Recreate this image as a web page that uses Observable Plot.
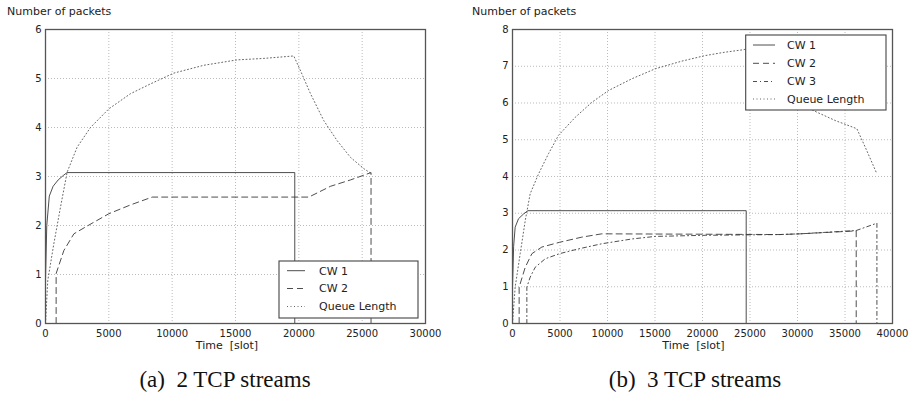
<!DOCTYPE html>
<html><head><meta charset="utf-8">
<script src="https://cdn.jsdelivr.net/npm/d3@7"></script>
<script src="https://cdn.jsdelivr.net/npm/@observablehq/plot@0.6"></script>
<style>
html,body{margin:0;padding:0;background:#fff;}
#root{position:relative;width:911px;height:394px;overflow:hidden;background:#fff;}
.panel{position:absolute;top:0;}
</style></head>
<body><div id="root"><div class="panel" id="pa" style="left:0"></div><div class="panel" id="pb" style="left:455px"></div></div>
<script>
// ---- Panel (a): 2 TCP streams ----
const A_xTicks = [0, 5000, 10000, 15000, 20000, 25000, 30000];
const A_yTicks = [0, 1, 2, 3, 4, 5, 6];
const A_CW1_t = [0, 100, 300, 600, 1000, 1400, 1700, 19680, 19680];
const A_CW1_v = [0.9, 2.0, 2.6, 2.8, 2.93, 3.02, 3.08, 3.08, 0];
const A_CW2_t = [840, 840, 1450, 2240, 3160, 5000, 6710, 8420, 20790, 22500, 24080, 25700, 25700];
const A_CW2_v = [0, 1.02, 1.49, 1.83, 1.97, 2.24, 2.42, 2.58, 2.58, 2.80, 2.93, 3.08, 0];
const A_Q_t = [0, 180, 660, 1180, 1710, 2500, 3550, 5000, 6710, 8290, 10130, 12500, 15130, 17240, 19600, 20130, 20920, 21970, 23030, 24080, 25130, 25660];
const A_Q_v = [0, 0.88, 1.63, 2.37, 3.09, 3.6, 4.0, 4.38, 4.69, 4.89, 5.11, 5.27, 5.38, 5.41, 5.46, 5.16, 4.69, 4.14, 3.73, 3.39, 3.16, 3.07];
const A_names = ["CW 1", "CW 2", "Queue Length"];
const A_caption = "(a)\u00a0 2 TCP streams";

// ---- Panel (b): 3 TCP streams ----
const B_xTicks = [0, 5000, 10000, 15000, 20000, 25000, 30000, 35000, 40000];
const B_yTicks = [0, 1, 2, 3, 4, 5, 6, 7, 8];
const B_CW1_t = [0, 120, 280, 630, 1160, 1620, 24600, 24600];
const B_CW1_v = [1.0, 2.1, 2.62, 2.85, 2.98, 3.07, 3.07, 0];
const B_CW2_t = [700, 700, 1340, 2040, 3090, 4950, 7300, 9400, 19750, 28180, 30270, 36180, 36180];
const B_CW2_v = [0, 0.99, 1.53, 1.90, 2.08, 2.21, 2.35, 2.44, 2.43, 2.42, 2.44, 2.52, 0];
const B_CW3_t = [1510, 1510, 1860, 2390, 3440, 4950, 6950, 9400, 12570, 15020, 20280, 28000, 30270, 36180, 38360, 38360];
const B_CW3_v = [0, 0.99, 1.26, 1.53, 1.76, 1.90, 2.03, 2.17, 2.30, 2.37, 2.40, 2.42, 2.44, 2.53, 2.73, 0];
const B_Q_t = [0, 280, 810, 1340, 1860, 2740, 3790, 4840, 6600, 8360, 10110, 12570, 15020, 17830, 20280, 22300, 24320, 24600, 25500, 27000, 29000, 31000, 32040, 34000, 36250, 37300, 38360];
const B_Q_v = [0, 0.99, 1.9, 2.8, 3.53, 4.07, 4.62, 5.12, 5.61, 6.02, 6.34, 6.66, 6.93, 7.14, 7.29, 7.38, 7.45, 7.47, 7.05, 6.55, 6.15, 5.88, 5.75, 5.52, 5.30, 4.7, 4.07];
const B_names = ["CW 1", "CW 2", "CW 3", "Queue Length"];
const B_caption = "(b)\u00a0 3 TCP streams";

const yLabel = "Number of packets";
const xLabel = "Time\u00a0 [slot]";

const DASH = {solid: null, dashed: "6,4", dashdot: "4,3,1,3", dotted: "1,2.5"};
const INK = {solid: "#3a3a3a", dashed: "#3a3a3a", dashdot: "#3a3a3a", dotted: "#555"};

function zip(t, v) { return t.map((x, i) => ({t: x, v: v[i]})); }

function panel(el, cfg) {
  const marks = [
    Plot.gridX(cfg.xTicks, {stroke: "#aaa", strokeOpacity: 1, strokeDasharray: "1,2", strokeWidth: 0.8}),
    Plot.gridY(cfg.yTicks, {stroke: "#aaa", strokeOpacity: 1, strokeDasharray: "1,2", strokeWidth: 0.8}),
    ...cfg.series.map(s => Plot.line(zip(s.t, s.v), {x: "t", y: "v", stroke: INK[s.style], strokeWidth: 0.9, strokeDasharray: DASH[s.style]})),
    Plot.frame({stroke: "#555", strokeWidth: 1.3}),
    Plot.axisX(cfg.xTicks, {tickSize: 0, tickPadding: 6, label: null, fill: "#222", tickFormat: d3.format("d")}),
    Plot.axisY(cfg.yTicks, {tickSize: 0, tickPadding: 4, label: null, fill: "#222", tickFormat: d3.format("d")})
  ];
  const svg = Plot.plot({
    width: cfg.width, height: 394,
    marginLeft: cfg.ml, marginRight: cfg.mr, marginTop: 29, marginBottom: 71,
    x: {domain: cfg.xDomain}, y: {domain: cfg.yDomain},
    style: {fontFamily: "DejaVu Sans", fontSize: "10px", background: "white", color: "#222", overflow: "visible"},
    marks
  });
  el.appendChild(svg);
  const s = d3.select(svg);
  const tf = "DejaVu Sans";
  s.append("text").attr("x", cfg.ylabX).attr("y", 15).attr("text-anchor", "start").attr("font-family", tf).attr("font-size", 11).attr("fill", "#222").text(yLabel);
  s.append("text").attr("x", cfg.xlabX).attr("y", 349.3).attr("text-anchor", "middle").attr("font-family", tf).attr("font-size", 11).attr("fill", "#222").text(xLabel);
  s.append("text").attr("x", cfg.capX).attr("y", 386.7).attr("text-anchor", "middle").attr("font-family", "Liberation Serif").attr("font-size", 23).attr("fill", "#111").text(cfg.caption);
  // legend
  const L = cfg.legend;
  const g = s.append("g");
  g.append("rect").attr("x", L.x0).attr("y", L.y0).attr("width", L.x1 - L.x0).attr("height", L.y1 - L.y0)
    .attr("fill", "white").attr("stroke", "#444").attr("stroke-width", 1.1);
  cfg.series.forEach((sr, i) => {
    const yy = L.rows[i];
    g.append("line").attr("x1", L.s0).attr("x2", L.s1).attr("y1", yy).attr("y2", yy)
      .attr("stroke", INK[sr.style]).attr("stroke-width", 0.9).attr("stroke-dasharray", DASH[sr.style]);
    g.append("text").attr("x", L.tx).attr("y", yy).attr("dy", "0.36em").attr("text-anchor", "start").attr("font-family", tf).attr("font-size", 11).attr("fill", "#222").text(sr.name);
  });
}

panel(document.getElementById("pa"), {
  width: 455, ml: 45, mr: 30, xDomain: [0, 30000], yDomain: [0, 6],
  xTicks: A_xTicks, yTicks: A_yTicks,
  series: [
    {name: A_names[0], t: A_CW1_t, v: A_CW1_v, style: "solid"},
    {name: A_names[1], t: A_CW2_t, v: A_CW2_v, style: "dashed"},
    {name: A_names[2], t: A_Q_t, v: A_Q_v, style: "dotted"}
  ],
  ylabX: 7, xlabX: 227, capX: 225, caption: A_caption,
  legend: {x0: 279, x1: 418, y0: 261, y1: 318, rows: [270.7, 288.5, 306.5], s0: 287, s1: 305, tx: 319}
});

panel(document.getElementById("pb"), {
  width: 456, ml: 57, mr: 19, xDomain: [0, 40000], yDomain: [0, 8],
  xTicks: B_xTicks, yTicks: B_yTicks,
  series: [
    {name: B_names[0], t: B_CW1_t, v: B_CW1_v, style: "solid"},
    {name: B_names[1], t: B_CW2_t, v: B_CW2_v, style: "dashed"},
    {name: B_names[2], t: B_CW3_t, v: B_CW3_v, style: "dashdot"},
    {name: B_names[3], t: B_Q_t, v: B_Q_v, style: "dotted"}
  ],
  ylabX: 17, xlabX: 238.5, capX: 240, caption: B_caption,
  legend: {x0: 290.7, x1: 431, y0: 35, y1: 110, rows: [45, 63.3, 81.5, 99], s0: 298, s1: 320, tx: 332}
});
</script>
</body></html>
